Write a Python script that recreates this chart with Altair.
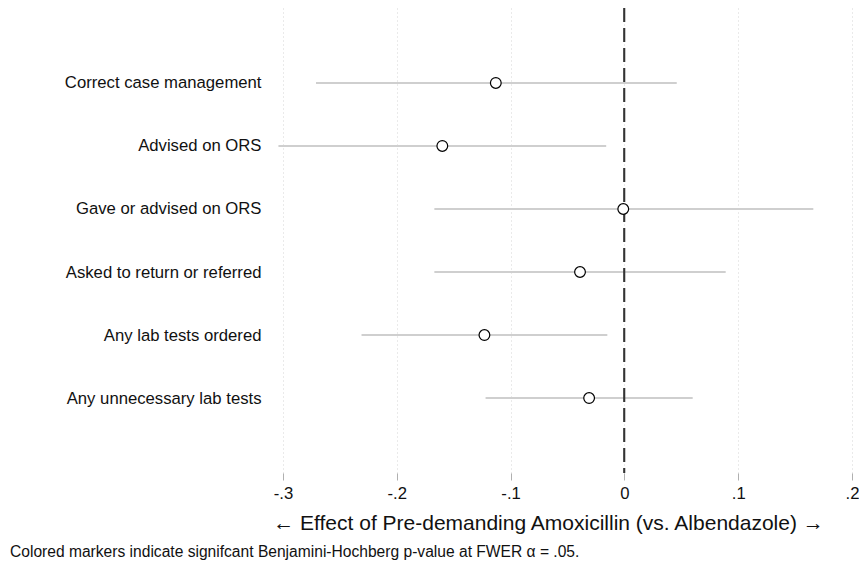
import altair as alt
import pandas as pd
import json

labels = [
    "Correct case management",
    "Advised on ORS",
    "Gave or advised on ORS",
    "Asked to return or referred",
    "Any lab tests ordered",
    "Any unnecessary lab tests",
]
estimate = [-0.113, -0.160, -0.001, -0.039, -0.123, -0.031]
ci_low = [-0.271, -0.304, -0.167, -0.167, -0.231, -0.122]
ci_high = [0.046, -0.016, 0.166, 0.089, -0.015, 0.060]
tick_values = [-0.3, -0.2, -0.1, 0.0, 0.1, 0.2]

x_title = "\u2190 Effect of Pre-demanding Amoxicillin (vs. Albendazole) \u2192"
caption = "Colored markers indicate signifcant Benjamini-Hochberg p-value at FWER \u03b1 = .05."

df = pd.DataFrame({
    "label": labels,
    "row": list(range(len(labels))),
    "est": estimate,
    "lo": ci_low,
    "hi": ci_high,
})

FONT = "Liberation Sans"

xscale = alt.Scale(domain=[-0.3, 0.2], nice=False, zero=False)
yscale = alt.Scale(domain=[-1.19, len(labels) - 1 + 1.19], nice=False, zero=False, reverse=True)

label_array = json.dumps(labels)

xaxis = alt.Axis(
    values=tick_values,
    labelExpr="replace(toString(datum.value), '0.', '.')",
    grid=True,
    gridDash=[1, 3],
    gridColor="#d4d4d4",
    gridWidth=1,
    domain=False,
    ticks=True,
    tickColor="#b0b0b0",
    tickSize=7,
    tickWidth=1,
    labelFontSize=16.7,
    labelFont=FONT,
    labelColor="#111111",
    labelPadding=5,
    labelFlush=False,
    title=x_title,
    titleFont=FONT,
    titleFontSize=21,
    titleFontWeight="normal",
    titleColor="#111111",
    titlePadding=11,
    titleX=265,
    titleAlign="center",
)
yaxis = alt.Axis(
    title=None,
    values=list(range(len(labels))),
    labelExpr=f"{label_array}[datum.value]",
    domain=False,
    ticks=False,
    grid=False,
    labelFontSize=16.7,
    labelFont=FONT,
    labelColor="#111111",
    labelPadding=22,
    labelLimit=0,
)

base = alt.Chart(df)

ci = base.mark_rule(color="#cfcfcf", strokeWidth=2).encode(
    x=alt.X("lo:Q", scale=xscale, axis=xaxis),
    x2="hi:Q",
    y=alt.Y("row:Q", scale=yscale, axis=yaxis),
)

zero = alt.Chart(df).mark_rule(color="#333333", strokeWidth=1.3, strokeDash=[14, 6]).encode(
    x=alt.datum(0)
)

pts = base.mark_point(
    shape="circle", filled=False, fill="white", fillOpacity=1, stroke="black",
    strokeWidth=1.2, size=115, opacity=1,
).encode(
    x=alt.X("est:Q", scale=xscale),
    y=alt.Y("row:Q", scale=yscale),
)

chart = (
    alt.layer(ci, zero, pts)
    .properties(
        width=569,
        height=465,
        autosize=alt.AutoSizeParams(type="none"),
        padding={"left": 275, "top": 0, "right": 7, "bottom": 88},
        title=alt.TitleParams(
            text=caption,
            orient="bottom",
            anchor="start",
            frame="group",
            dx=-273,
            offset=11,
            font=FONT,
            fontSize=15.6,
            fontWeight="normal",
            color="#111111",
        ),
    )
    .configure_view(stroke=None)
)

chart.save("out.html", embed_options={"renderer": "svg", "actions": False})
